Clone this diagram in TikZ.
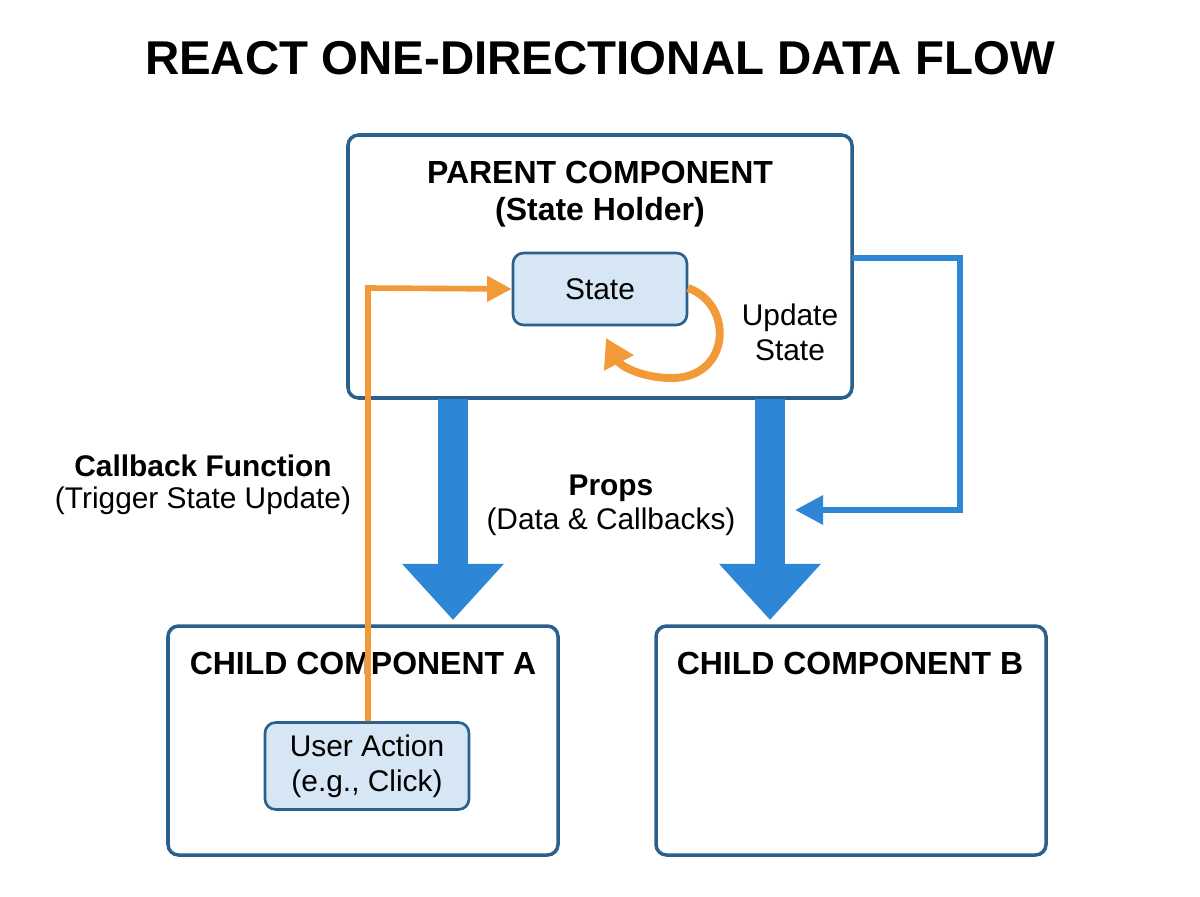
\documentclass[tikz,border=0pt]{standalone}
\usepackage{fontspec}
\setmainfont{Liberation Sans}
\usetikzlibrary{arrows.meta,shapes.arrows}
\definecolor{boxc}{HTML}{2B5F8C}
\definecolor{fillc}{HTML}{D6E6F5}
\definecolor{bluea}{HTML}{2E86D6}
\definecolor{orng}{HTML}{F29A38}
\begin{document}
\begin{tikzpicture}[x=0.02cm,y=-0.02cm,
 box/.style={draw=boxc,line width=2pt,rounded corners=6pt},
 sbox/.style={draw=boxc,fill=fillc,line width=1.5pt,rounded corners=6pt},
 big/.style={font=\fontsize{18.2}{20}\selectfont\bfseries},
 reg/.style={font=\fontsize{17}{20}\selectfont},
 bld/.style={font=\fontsize{17}{20}\selectfont\bfseries},
 fat/.style={bluea,line width=17pt,-{Triangle[width=56pt,length=32pt]}},
 org/.style={orng,line width=3.2pt,-{Triangle[width=14pt,length=14pt]}}]
\useasboundingbox (0,0) rectangle (1200,896);
\node[font=\fontsize{27}{30}\selectfont\bfseries] (title) at (600,58) {REACT ONE-DIRECTIONAL DATA FLOW};
\draw[box] (348,135) rectangle (852,398);
\node[big] (pt1) at (600,172) {PARENT COMPONENT};
\node[big] (pt2) at (600,212) {(State Holder)};
\node[sbox,minimum width=3.48cm,minimum height=1.44cm,reg] (state) at (600,289) {State};
\node[reg,align=center] (upd) at (790,332) {Update\\State};
\draw[box] (168,626) rectangle (558,855);
\draw[box] (656,626) rectangle (1046,855);
\node[big] (ca) at (363,663) {CHILD COMPONENT A};
\node[big] (cb) at (850,663) {CHILD COMPONENT B};
\node[sbox,minimum width=4.08cm,minimum height=1.74cm,reg,align=center] (ua) at (367,766) {User Action\\(e.g., Click)};
\node[bld] (cf1) at (203,466) {Callback Function};
\node[reg] (cf2) at (203,501) {(Trigger State Update)};
\node[bld] (p1) at (611,488) {Props};
\node[reg] (p2) at (611,522) {(Data \& Callbacks)};
\coordinate (a1) at (453,399); \coordinate (a2) at (453,620);
\coordinate (b1) at (770,399); \coordinate (b2) at (770,620);
\draw[fat] (a1) -- (a2);
\draw[fat] (b1) -- (b2);
\coordinate (r1) at (852,258); \coordinate (r2) at (960,258); \coordinate (r3) at (960,510); \coordinate (r4) at (795,510);
\draw[bluea,line width=3.5pt,-{Triangle[width=16pt,length=16pt]}] (r1) -- (r2) -- (r3) -- (r4);
\draw[org] (ua.north -| 368,0) -- (368,288) -- (state.west);
\draw[orng,line width=4.5pt,-{Triangle[width=18pt,length=16pt]}] (688,288) .. controls (735,305) and (730,378) .. (672,378) .. controls (640,378) and (620,365) .. (606,338);
\end{tikzpicture}
\end{document}
